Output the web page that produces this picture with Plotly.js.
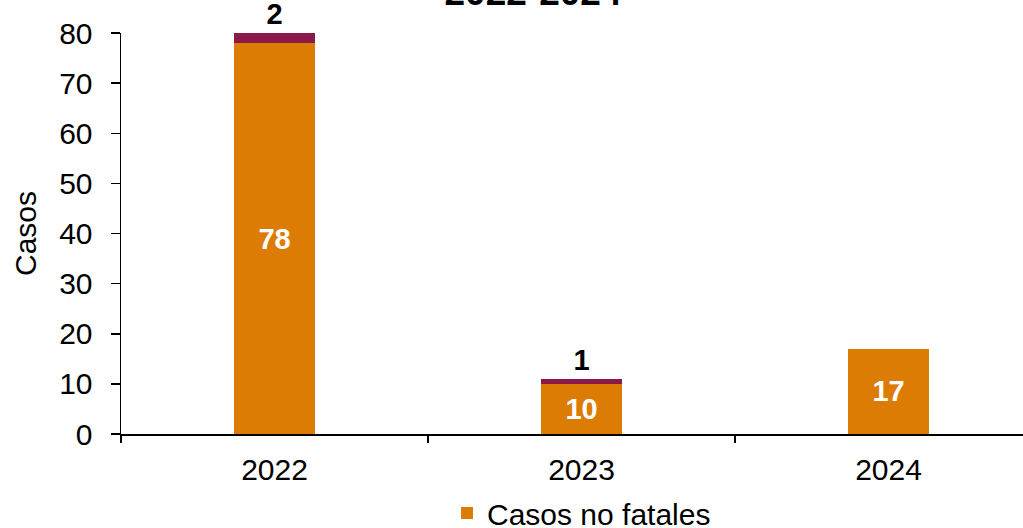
<!DOCTYPE html>
<html><head><meta charset="utf-8">
<script src="https://cdn.plot.ly/plotly-3.0.1.min.js"></script>
<style>html,body{margin:0;padding:0;overflow:hidden;background:#fff}</style>
</head><body>
<div id="chart"></div>
<script>
const years = ['2022', '2023', '2024'];
const noFatales = [78, 10, 17];
const fatales = [2, 1, 0];
const seriesNames = ['Casos no fatales', 'Casos fatales'];
const chartTitle = '2022-2024';
const yTitle = 'Casos';

const W = 1060, H = 528;
const font = 'Liberation Sans, Arial, sans-serif';

const traces = [
  {
    type: 'bar', name: seriesNames[0], x: years, y: noFatales,
    marker: {color: '#DD7C04'},
    text: noFatales.map(String), textposition: 'inside', insidetextanchor: 'middle',
    textfont: {family: font, size: 29, color: '#ffffff', weight: 'bold'},
    width: 0.264, hoverinfo: 'none'
  },
  {
    type: 'bar', name: seriesNames[1], x: years, y: fatales,
    marker: {color: '#8B1A4B'},
    text: fatales.map(v => v > 0 ? String(v) : ''), textposition: 'outside',
    textfont: {family: font, size: 29, color: '#000000', weight: 'bold'},
    width: 0.264, showlegend: false, hoverinfo: 'none', cliponaxis: false
  }
];

const layout = {
  width: W, height: H,
  margin: {l: 121, r: W - 1042, t: 33, b: 94},
  barmode: 'stack',
  paper_bgcolor: '#ffffff', plot_bgcolor: '#ffffff',
  font: {family: font, color: '#000000'},
  title: {text: '<b>' + chartTitle + '</b>', font: {family: font, size: 37, color: '#000'},
    x: 533 / W, xanchor: 'center', xref: 'container', y: 1 - 5 / H, yref: 'container', yanchor: 'bottom'},
  xaxis: {
    type: 'category', showline: true, linecolor: '#000', linewidth: 1.5,
    ticks: 'outside', tickson: 'boundaries', ticklen: 7, tickcolor: '#000', tickwidth: 1.5,
    ticklabelstandoff: 8,
    tickfont: {family: font, size: 30, color: '#000'}, showgrid: false, zeroline: false,
    automargin: false
  },
  yaxis: {
    range: [0, 80], dtick: 10, showline: true, linecolor: '#000', linewidth: 1.5,
    ticks: 'outside', ticklen: 9, tickcolor: '#000', tickwidth: 1.5, ticklabelstandoff: 12,
    tickfont: {family: font, size: 30, color: '#000'}, showgrid: false, zeroline: false,
    automargin: false,
    title: {text: yTitle, font: {family: font, size: 30, color: '#000'}, standoff: 13}
  },
  showlegend: true,
  legend: {orientation: 'h', x: 0.5, xanchor: 'center', y: 1 - 513 / H, yref: 'container', yanchor: 'middle',
    font: {family: font, size: 30, color: '#000'}}
};

Plotly.newPlot('chart', traces, layout, {displayModeBar: false, staticPlot: true});
</script>
</body></html>
